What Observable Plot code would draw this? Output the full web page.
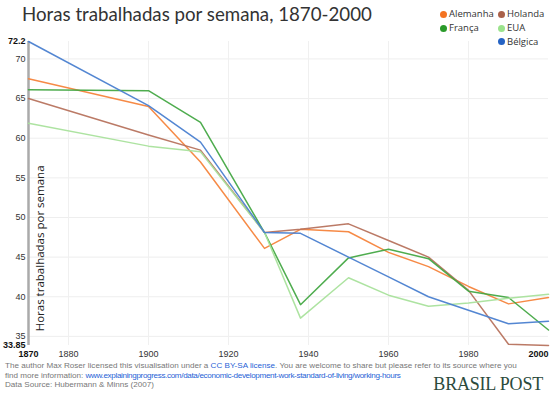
<!DOCTYPE html>
<html>
<head>
<meta charset="utf-8">
<script src="https://cdn.jsdelivr.net/npm/d3@7"></script>
<script src="https://cdn.jsdelivr.net/npm/@observablehq/plot@0.6"></script>
<style>
  body { margin: 0; background: #fff; }
  #wrap { width: 550px; height: 396px; overflow: hidden; font-family: "Open Sans", sans-serif; }
  #header { position: relative; height: 34px; }
  #title { position: absolute; left: 22px; top: 3px; font-family: Lato, sans-serif; font-size: 18.7px; color: #333; white-space: nowrap; }
  .leg { position: absolute; font-size: 9.5px; color: #333; white-space: nowrap; line-height: 12px; }
  .leg span.dot { display: inline-block; width: 7px; height: 7px; border-radius: 50%; margin-right: 2px; vertical-align: -0.5px; }
  #chart { position: relative; height: 327px; z-index: 0; }
  #footer { position: relative; height: 35px; font-family: "Liberation Sans", Arial, sans-serif; }
  #notes { position: absolute; left: 5px; top: 0px; font-size: 8.1px; line-height: 9.5px; color: #777; white-space: nowrap; }
  #notes a { color: #1f5fd6; text-decoration: none; }
  #notes a.url { letter-spacing: -0.35px; }
  #brand { position: absolute; right: 7px; top: 13px; font-family: "Liberation Serif", serif; font-size: 18px; color: #2b4a3c; letter-spacing: -0.2px; }
</style>
</head>
<body>
<div id="wrap">
  <div id="header">
    <div id="title">Horas trabalhadas por semana, 1870-2000</div>
    <div id="legend"></div>
  </div>
  <div id="chart"></div>
  <div id="footer">
    <div id="notes">The author Max Roser licensed this visualisation under a <a>CC BY-SA license</a>. You are welcome to share but please refer to its source where you<br>find more information: <a class="url">www.explainingprogress.com/data/economic-development-work-standard-of-living/working-hours</a><br>Data Source: Hubermann &amp; Minns (2007)</div>
    <div id="brand">BRASIL POST</div>
  </div>
</div>
<script>
const years = [1870, 1900, 1913, 1929, 1938, 1950, 1960, 1970, 1980, 1990, 2000];
const countries = ["Alemanha", "Holanda", "França", "EUA", "Bélgica"];
const alemanha = [67.5, 64.0, 57.0, 46.1, 48.5, 48.2, 45.6, 43.8, 41.3, 39.1, 39.9];
const holanda  = [65.0, 60.4, 58.5, 48.1, 48.5, 49.2, 47.1, 45.0, 40.8, 34.0, 33.85];
const franca   = [66.1, 66.0, 62.0, 48.1, 39.0, 44.9, 46.0, 44.8, 40.7, 39.9, 35.8];
const eua      = [61.9, 59.0, 58.3, 48.1, 37.3, 42.4, 40.2, 38.8, 39.2, 39.8, 40.3];
const belgica  = [72.2, 64.1, 59.5, 48.1, 48.0, 45.0, 42.5, 40.0, 38.3, 36.6, 36.9];
const lineColors = ["#f5843c", "#b7735e", "#45a845", "#a9e29c", "#4a7fd0"];
const dotColors  = ["#f47321", "#a9614a", "#2a9a2a", "#9be38c", "#2563c4"];
const yTicks = [35, 40, 45, 50, 55, 60, 65, 70];
const yEnds = [33.85, 72.2];
const xTicks = [1880, 1900, 1920, 1940, 1960, 1980];
const xEnds = [1870, 2000];
const yLabel = "Horas trabalhadas por semana";
const yLabelCenter = 46.1;

const series = [alemanha, holanda, franca, eua, belgica];
const data = [];
countries.forEach((c, i) => years.forEach((yr, j) => {
  if (series[i][j] != null) data.push({country: c, year: yr, hours: series[i][j]});
}));

// legend (HTML)
const legPos = [[440, 8], [498, 8], [440, 22], [498, 22], [498, 35.5]];
const legend = document.getElementById("legend");
countries.forEach((c, i) => {
  const d = document.createElement("div");
  d.className = "leg";
  d.style.left = legPos[i][0] + "px";
  d.style.top = legPos[i][1] + "px";
  d.innerHTML = `<span class="dot" style="background:${dotColors[i]}"></span>${c}`;
  legend.appendChild(d);
});

const tickFont = {fontSize: 9, fill: "#333"};
const chart = Plot.plot({
  width: 550,
  height: 327,
  marginTop: 7,
  marginBottom: 16,
  marginLeft: 28,
  marginRight: 2,
  style: {fontFamily: "Liberation Sans, Arial, sans-serif", fontSize: "9px", color: "#333", background: "transparent"},
  x: {domain: [1870, 2000]},
  y: {domain: [33.85, 72.2]},
  color: {domain: countries, range: lineColors},
  marks: [
    Plot.gridY(yTicks, {stroke: "#eeeeee", strokeOpacity: 1}),
    Plot.gridX(xTicks, {stroke: "#f0f0f0", strokeOpacity: 1}),
    Plot.axisY(yTicks, {tickSize: 0, tickPadding: 3, label: null, ...tickFont}),
    Plot.axisY(yEnds, {tickSize: 0, tickPadding: 3, label: null, fontWeight: "bold", tickFormat: d => String(d), fill: "#111"}),
    Plot.axisX(xTicks, {tickSize: 0, tickPadding: 5, label: null, tickFormat: d => String(d), ...tickFont}),
    Plot.text([xEnds[0]], {x: d => d, frameAnchor: "bottom", lineAnchor: "top", dy: 5, fontWeight: "bold", fill: "#111", text: d => String(d)}),
    Plot.text([xEnds[1]], {x: d => d, frameAnchor: "bottom", lineAnchor: "top", dy: 5, textAnchor: "end", fontWeight: "bold", fill: "#111", text: d => String(d)}),
    Plot.ruleX([1870], {stroke: "#aaaaaa", strokeWidth: 2.5}),
    Plot.text([yLabel], {x: xEnds[0], y: () => yLabelCenter, dx: 12, rotate: -90, fontSize: 11.5, fill: "#222", fontFamily: "Open Sans, sans-serif", text: d => d}),
    Plot.line(data, {x: "year", y: "hours", z: "country", stroke: "country", strokeWidth: 1.5, strokeOpacity: 0.95})
  ]
});
document.getElementById("chart").appendChild(chart);
</script>
</body>
</html>
